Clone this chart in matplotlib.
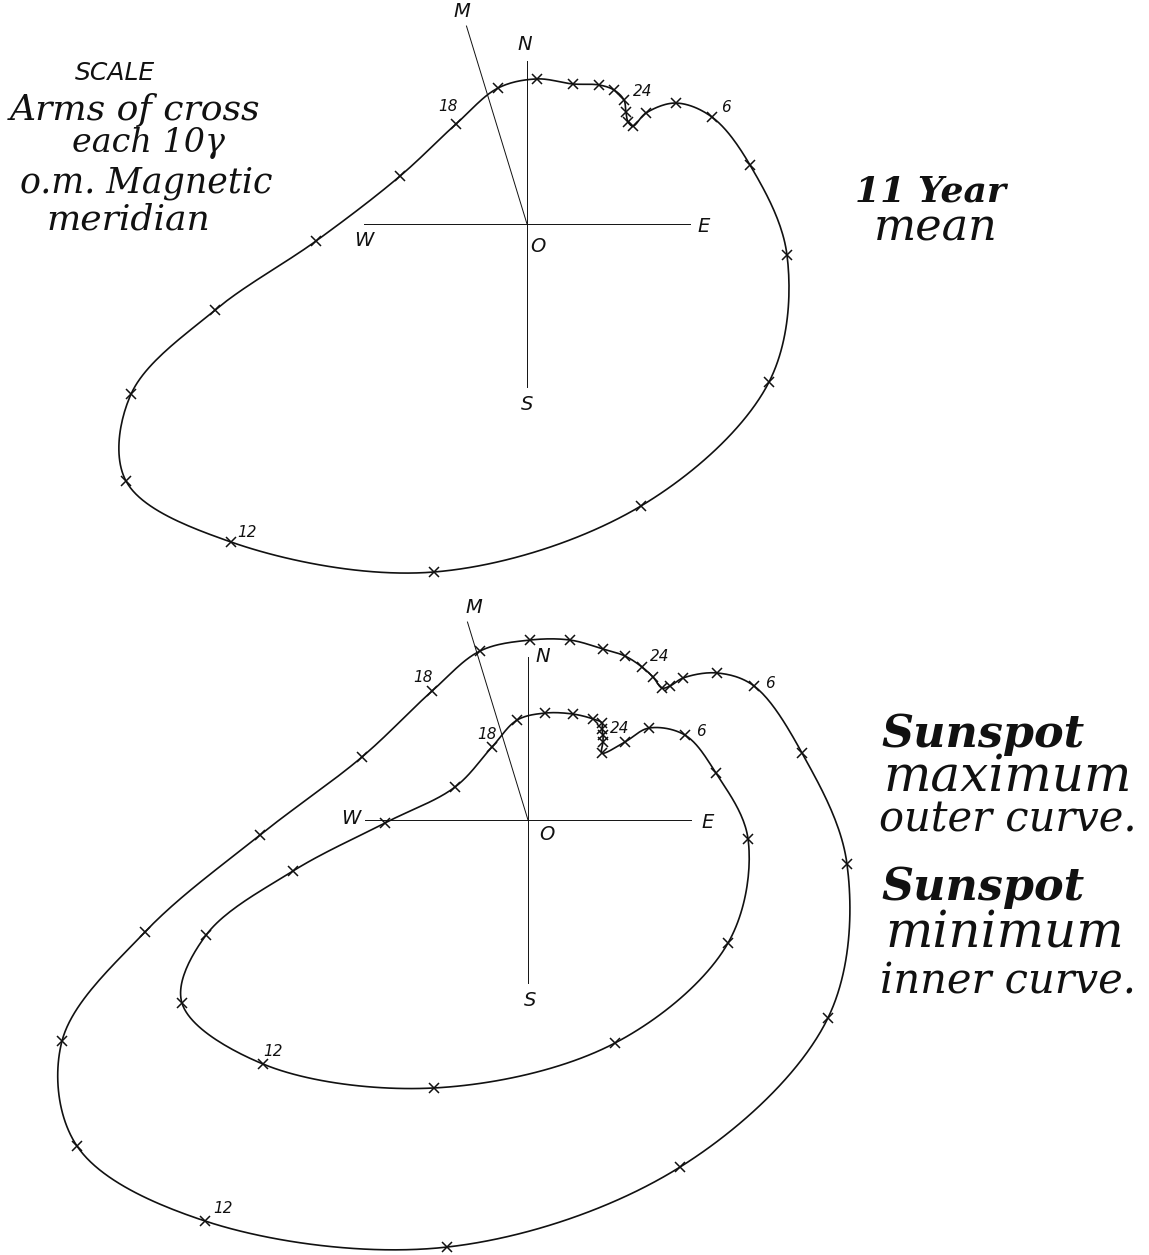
import numpy as np
import matplotlib
matplotlib.use("Agg")
import matplotlib.pyplot as plt

# ---------------- data (gamma, east +, north +), hourly points 0..23 -------------
hours = list(range(24))

mean_x = [5.95, 6.07, 6.20, 6.50, 7.30, 9.14, 11.35, 13.68, 15.95, 14.85, 6.99, -5.71,
          -18.16, -24.60, -24.29, -19.14, -12.94, -7.79, -4.36, -1.78, 0.61, 2.82, 4.42, 5.34]
mean_y = [7.61, 6.87, 6.26, 6.01, 6.81, 7.42, 6.56, 3.62, -1.90, -9.69, -17.30, -21.35,
          -19.51, -15.77, -10.43, -5.28, -1.04, 2.94, 6.13, 8.34, 8.90, 8.59, 8.53, 8.22]

max_x = [6.99, 7.67, 8.22, 8.71, 9.51, 11.60, 13.87, 16.81, 19.57, 18.40, 9.33, -4.97,
         -19.82, -27.67, -28.59, -23.50, -16.44, -10.18, -5.89, -2.94, 0.12, 2.58, 4.60, 5.95]
max_y = [9.39, 8.77, 8.10, 8.22, 8.71, 9.02, 8.22, 4.11, -2.70, -12.15, -21.29, -26.20,
         -24.60, -20.00, -13.56, -6.87, -0.92, 3.87, 7.91, 10.37, 11.04, 11.04, 10.49, 10.06]

min_x = [4.54, 4.60, 4.60, 4.54, 5.95, 7.42, 9.63, 11.53, 13.50, 12.27, 5.34, -5.77,
         -16.26, -21.23, -19.75, -14.42, -8.77, -4.48, -2.21, -0.67, 1.04, 2.76, 3.99, 4.54]
min_y = [5.58, 5.21, 4.79, 4.11, 4.79, 5.64, 5.21, 2.88, -1.17, -7.55, -13.68, -16.44,
         -14.97, -11.23, -7.06, -3.13, -0.18, 2.02, 4.48, 6.13, 6.56, 6.50, 6.20, 5.95]

labelled_hours = [24, 6, 12, 18]
arm_length = 10.0          # gamma, arms of the cross
declination_deg = 17.0     # magnetic meridian, west of north
meridian_length = 12.7

W, H = 1149, 1255
PX_PER_GAMMA = 16.3

fig = plt.figure(figsize=(W / 100, H / 100), dpi=100)
fig.patch.set_facecolor("white")

INK = "#111111"


def make_axes(row0, row1, ox, oy):
    ax = fig.add_axes([0, 1 - row1 / H, 1, (row1 - row0) / H])
    ax.set_xlim((0 - ox) / PX_PER_GAMMA, (W - ox) / PX_PER_GAMMA)
    ax.set_ylim((oy - row1) / PX_PER_GAMMA, (oy - row0) / PX_PER_GAMMA)
    ax.axis("off")
    return ax


def smooth_closed(xs, ys, n=24, alpha=0.5):
    P = np.column_stack([xs, ys]).astype(float)
    N = len(P)
    out = []
    for i in range(N):
        p0, p1, p2, p3 = P[(i - 1) % N], P[i], P[(i + 1) % N], P[(i + 2) % N]
        t0 = 0.0
        t1 = t0 + max(np.linalg.norm(p1 - p0), 1e-6) ** alpha
        t2 = t1 + max(np.linalg.norm(p2 - p1), 1e-6) ** alpha
        t3 = t2 + max(np.linalg.norm(p3 - p2), 1e-6) ** alpha
        t = np.linspace(t1, t2, n, endpoint=False)[:, None]
        A1 = (t1 - t) / (t1 - t0) * p0 + (t - t0) / (t1 - t0) * p1
        A2 = (t2 - t) / (t2 - t1) * p1 + (t - t1) / (t2 - t1) * p2
        A3 = (t3 - t) / (t3 - t2) * p2 + (t - t2) / (t3 - t2) * p3
        B1 = (t2 - t) / (t2 - t0) * A1 + (t - t0) / (t2 - t0) * A2
        B2 = (t3 - t) / (t3 - t1) * A2 + (t - t1) / (t3 - t1) * A3
        C = (t2 - t) / (t2 - t1) * B1 + (t - t1) / (t2 - t1) * B2
        out.append(C)
    out.append(P[:1])
    C = np.vstack(out)
    return C[:, 0], C[:, 1]


def draw_cross(ax, offs):
    lw = 0.7
    ax.plot([-arm_length, arm_length], [0, 0], color=INK, lw=lw)
    ax.plot([0, 0], [-arm_length, arm_length], color=INK, lw=lw)
    d = np.deg2rad(declination_deg)
    mtip = (-meridian_length * np.sin(d), meridian_length * np.cos(d))
    ax.plot([0, mtip[0]], [0, mtip[1]], color=INK, lw=lw)
    kw = dict(color=INK, fontsize=14, style="italic", family="DejaVu Sans",
              ha="center", va="center", textcoords="offset pixels")
    anchors = {"N": (0, arm_length), "E": (arm_length, 0), "W": (-arm_length, 0),
               "S": (0, -arm_length), "O": (0, 0), "M": mtip}
    for k, p in anchors.items():
        ax.annotate(k, p, xytext=offs[k], **kw)


def draw_curve(ax, xs, ys, label_offsets):
    sx, sy = smooth_closed(xs, ys)
    ax.plot(sx, sy, color=INK, lw=1.2, solid_joinstyle="round")
    ax.plot(xs, ys, ls="none", marker="x", ms=6.5, mew=1.1, color=INK)
    for h, off in zip(labelled_hours, label_offsets):
        i = h % 24
        ax.annotate(str(h), (xs[i], ys[i]), xytext=off, textcoords="offset pixels",
                    fontsize=11, style="italic", family="DejaVu Sans", color=INK,
                    ha="center", va="center")


# ---------------- top panel: 11 year mean ----------------
ax1 = make_axes(0, 595, 527, 224)
draw_cross(ax1, {"N": (-2, 16), "E": (14, -2), "W": (0, -16), "S": (0, -17),
                 "O": (11, -22), "M": (-5, 15)})
draw_curve(ax1, mean_x, mean_y, [(19, 8), (14, 10), (16, 10), (-8, 18)])

# ---------------- bottom panel: sunspot max / min ----------------
ax2 = make_axes(595, H, 528, 820)
draw_cross(ax2, {"N": (15, 0), "E": (17, -2), "W": (-14, 2), "S": (2, -18),
                 "O": (19, -15), "M": (6, 15)})
draw_curve(ax2, max_x, max_y, [(18, 10), (16, 3), (18, 12), (-9, 14)])
draw_curve(ax2, min_x, min_y, [(18, 1), (16, 4), (10, 13), (-5, 12)])


# ---------------- text ----------------
def ftext(x, y, s, **kw):
    fig.text(x / W, 1 - y / H, s, **kw)


script = dict(family="DejaVu Serif", style="italic", color=INK, ha="center", va="baseline")

ftext(115, 80, "SCALE", family="DejaVu Sans", style="italic", fontsize=18, color=INK,
      ha="center", va="baseline")
ftext(135, 120, "Arms of cross", fontsize=26, **script)
ftext(148, 152, "each 10γ", fontsize=24, **script)
ftext(146, 192, "o.m. Magnetic", fontsize=25, **script)
ftext(128, 230, "meridian", fontsize=26, **script)

ftext(930, 202, "11 Year", fontsize=26, weight="bold", **script)
ftext(936, 240, "mean", fontsize=32, **script)

ftext(983, 747, "Sunspot", fontsize=32, weight="bold", **script)
ftext(1008, 792, "maximum", fontsize=36, **script)
ftext(1008, 832, "outer curve.", fontsize=30, **script)
ftext(983, 900, "Sunspot", fontsize=32, weight="bold", **script)
ftext(1005, 947, "minimum", fontsize=36, **script)
ftext(1008, 993, "inner curve.", fontsize=30, **script)

fig.savefig("out.png", dpi=100, facecolor="white")
